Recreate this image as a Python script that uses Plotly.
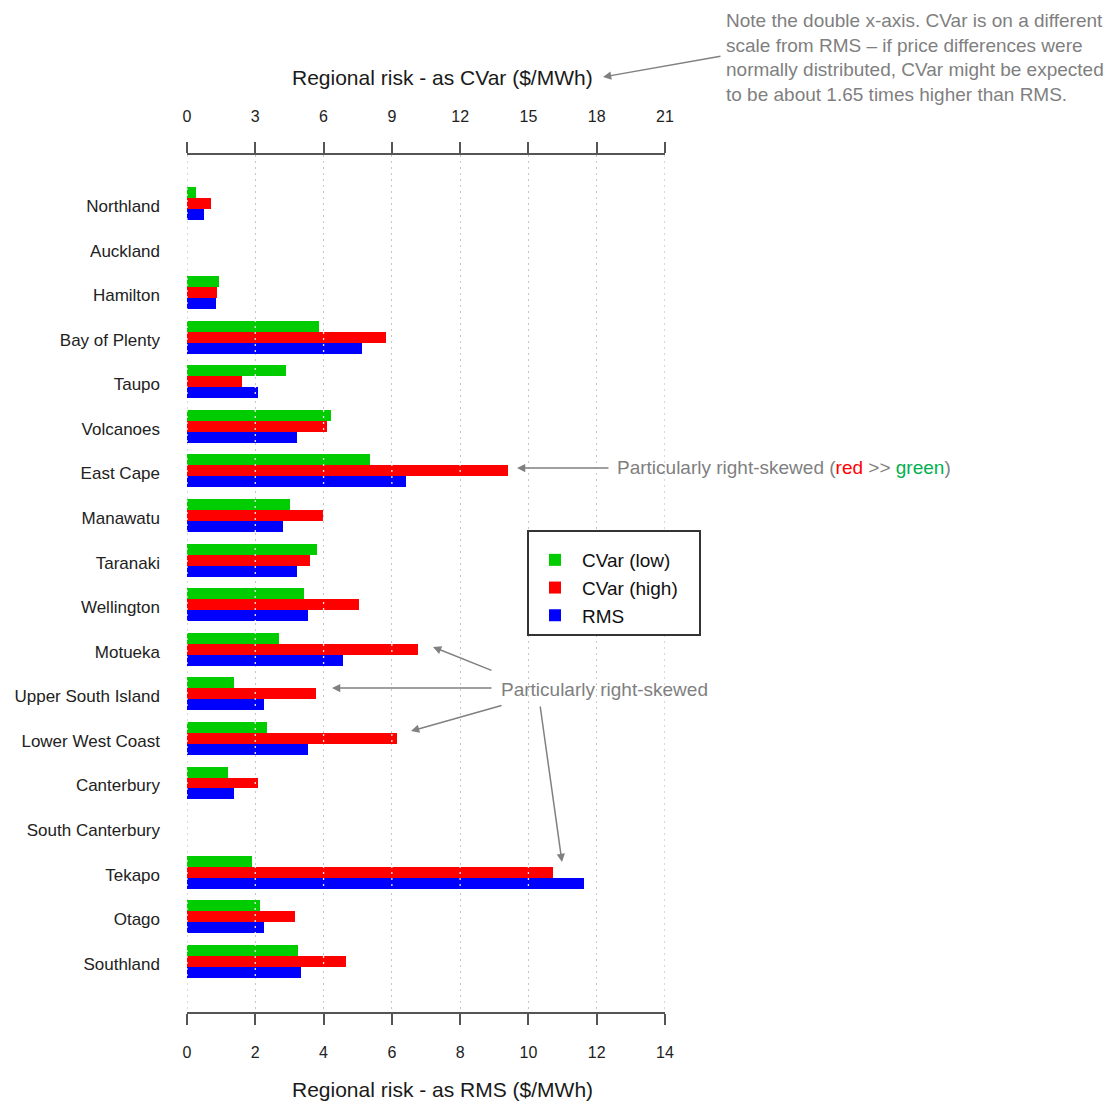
import plotly.graph_objects as go

# Regional price-risk measures ($/MWh)
regions = ["Northland", "Auckland", "Hamilton", "Bay of Plenty", "Taupo", "Volcanoes",
           "East Cape", "Manawatu", "Taranaki", "Wellington", "Motueka",
           "Upper South Island", "Lower West Coast", "Canterbury", "South Canterbury",
           "Tekapo", "Otago", "Southland"]
cvar_low = [0.40, None, 1.39, 5.79, 4.35, 6.31, 8.03, 4.54, 5.73, 5.13, 4.06,
            2.05, 3.53, 1.80, None, 2.87, 3.22, 4.88]
cvar_high = [1.04, None, 1.33, 8.74, 2.40, 6.14, 14.12, 5.99, 5.42, 7.56, 10.16,
             5.65, 9.21, 3.11, None, 16.08, 4.76, 6.97]
rms = [0.49, None, 0.85, 5.12, 2.07, 3.21, 6.41, 2.82, 3.21, 3.53, 4.56,
       2.26, 3.53, 1.37, None, 11.63, 2.26, 3.33]

rms_ticks = list(range(0, 15, 2))
cvar_ticks = list(range(0, 22, 3))

W, H = 1116, 1102
L, R, T, B = 187, 451, 155, 90
PW, PH = W - L - R, H - T - B
FONT = "Liberation Sans, Arial, sans-serif"
GREY = "#7f7f7f"
AXIS = "#555555"


def paper(px, py):
    """Convert page pixel position to paper coordinates."""
    return (px - L) / PW, (H - B - py) / PH


fig = go.Figure()
bar_w = 0.246
fig.add_trace(go.Bar(y=regions, x=cvar_low, name="CVar (low)", orientation="h",
                     xaxis="x2", marker=dict(color="#00cc00", line=dict(width=0)),
                     width=bar_w, offset=-0.426))
fig.add_trace(go.Bar(y=regions, x=cvar_high, name="CVar (high)", orientation="h",
                     xaxis="x2", marker=dict(color="#ff0000", line=dict(width=0)),
                     width=bar_w, offset=-0.18))
fig.add_trace(go.Bar(y=regions, x=rms, name="RMS", orientation="h",
                     xaxis="x", marker=dict(color="#0000ff", line=dict(width=0)),
                     width=bar_w, offset=0.066))

axis_common = dict(showline=True, linecolor=AXIS, linewidth=2, ticks="outside",
                   ticklen=11, tickwidth=2, tickcolor=AXIS, zeroline=False,
                   tickfont=dict(family=FONT, size=16, color="#222222"),
                   ticklabelstandoff=14, fixedrange=True)

GRID_DASH = "2px,4px"
shapes = []
# dotted grid at the outer ticks (the axis grid skips the range ends)
for v in (rms_ticks[0], rms_ticks[-1]):
    shapes.append(dict(type="line", xref="x", yref="paper", x0=v, x1=v, y0=1, y1=0,
                       layer="below",
                       line=dict(color="#c4c4c4", width=1.3, dash=GRID_DASH)))
# light dotted lines showing through the bars
for v in rms_ticks:
    shapes.append(dict(type="line", xref="x", yref="paper", x0=v, x1=v, y0=1, y1=0,
                       layer="above",
                       line=dict(color="rgba(255,255,255,0.9)", width=1.3,
                                 dash="0px,3px,2px,1px")))
# legend frame
lx0, ly0 = paper(528, 635)
lx1, ly1 = paper(700, 531)
shapes.append(dict(type="rect", xref="paper", yref="paper", x0=lx0, x1=lx1, y0=ly0, y1=ly1,
                   layer="above", fillcolor="white", line=dict(color="#333333", width=2)))

annotations = []


def text_at(px, py, text, size, color, xanchor="center", align="center"):
    x, y = paper(px, py)
    annotations.append(dict(x=x, y=y, xref="paper", yref="paper", text=text,
                            showarrow=False, xanchor=xanchor, yanchor="middle",
                            align=align, font=dict(family=FONT, size=size, color=color)))


def arrow(tail, head):
    x, y = paper(*head)
    annotations.append(dict(x=x, y=y, xref="paper", yref="paper", text="",
                            showarrow=True, axref="pixel", ayref="pixel",
                            ax=tail[0] - head[0], ay=tail[1] - head[1],
                            arrowhead=2, arrowsize=1.1, arrowwidth=1.5,
                            arrowcolor="#808080", standoff=0, startstandoff=0))


text_at(442, 78, "Regional risk - as CVar ($/MWh)", 21, "#1a1a1a")
text_at(442, 1089, "Regional risk - as RMS ($/MWh)", 21, "#1a1a1a")
text_at(724, 57.5,
        "Note the double x-axis. CVar is on a different<br>"
        "scale from RMS – if price differences were<br>"
        "normally distributed, CVar might be expected<br>"
        "to be about 1.65 times higher than RMS.",
        19, GREY, xanchor="left", align="left")
text_at(615, 468,
        "Particularly right-skewed (<span style='color:#ff0000'>red</span> &gt;&gt; "
        "<span style='color:#00b050'>green</span>)", 19, GREY, xanchor="left")
text_at(499, 689, "Particularly right-skewed", 19, GREY, xanchor="left")

arrow((722, 56), (603, 77))
arrow((610, 468), (517, 468))
arrow((493, 671), (433, 647))
arrow((493, 688), (332, 688))
arrow((503, 705), (411, 731))
arrow((540, 705), (562, 862))

legx, legy = paper(528, 541)

fig.update_layout(
    width=W, height=H, autosize=False,
    margin=dict(l=L, r=R, t=T, b=B, pad=0),
    paper_bgcolor="white", plot_bgcolor="white",
    barmode="overlay", bargap=0,
    font=dict(family=FONT, color="#222222"),
    xaxis=dict(range=[0, 14], tickvals=rms_ticks, side="bottom",
               showgrid=True, gridcolor="#c4c4c4", gridwidth=1.3, griddash=GRID_DASH,
               **axis_common),
    xaxis2=dict(range=[0, 21], tickvals=cvar_ticks, side="top", overlaying="x",
                showgrid=False, **axis_common),
    yaxis=dict(type="category", categoryorder="array", categoryarray=regions,
               range=[18.08, -1.144], showgrid=False, showline=False, zeroline=False,
               ticks="", ticklabelstandoff=26, fixedrange=True,
               tickfont=dict(family=FONT, size=17, color="#222222")),
    legend=dict(x=legx, y=legy, xanchor="left", yanchor="top",
                bgcolor="rgba(0,0,0,0)", borderwidth=0, itemwidth=44,
                font=dict(family=FONT, size=19, color="#111111"),
                traceorder="normal", tracegroupgap=0),
    showlegend=True,
    shapes=shapes,
    annotations=annotations,
)

fig.write_html("out.html", config={"displayModeBar": False})
